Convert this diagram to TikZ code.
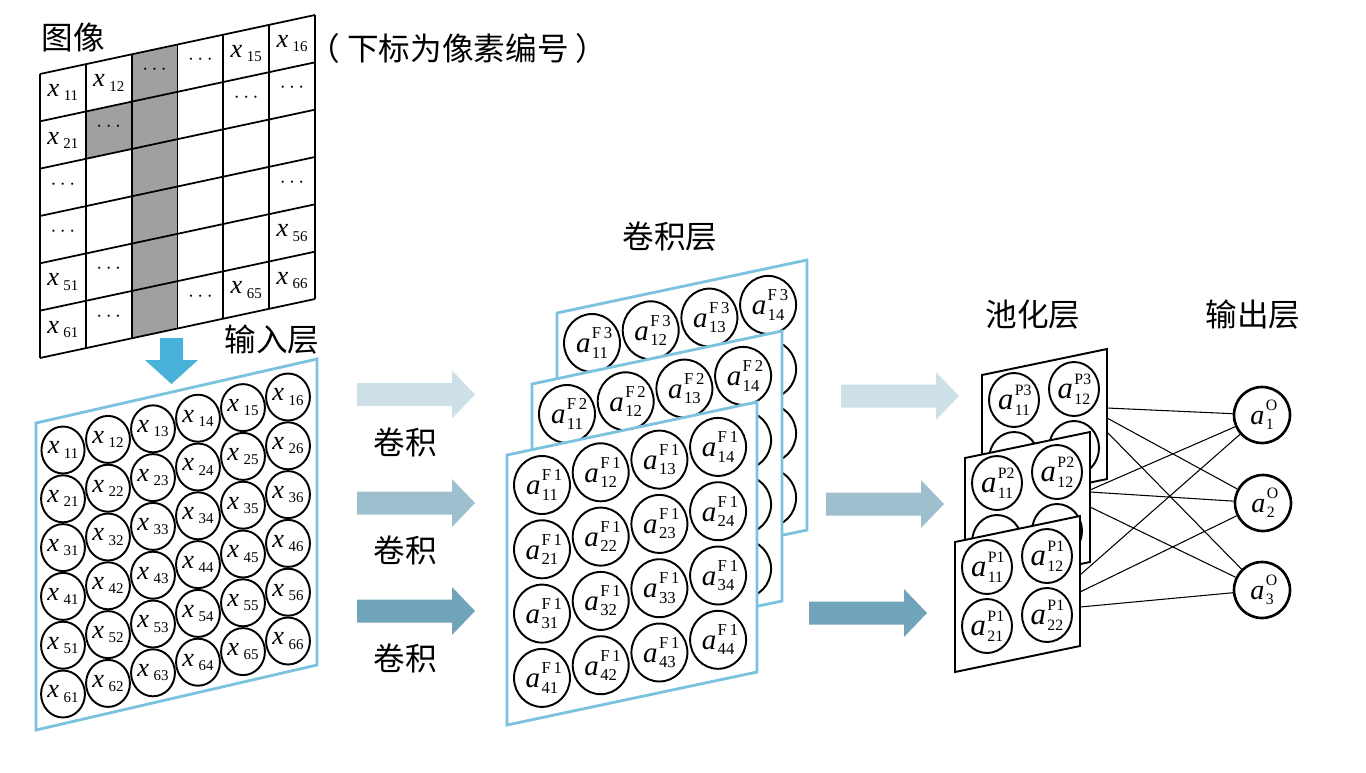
\documentclass[tikz,border=0pt]{standalone}
\usepackage{fontspec}
\setmainfont{Liberation Serif}
\newfontfamily\cjk{Noto Sans CJK SC}
\usepackage{tikz}
\usetikzlibrary{shapes.geometric,positioning}

\definecolor{planeblue}{RGB}{122,194,224}
\definecolor{downblue}{RGB}{72,178,219}
\definecolor{cellgray}{RGB}{160,160,160}
\definecolor{arrowlight}{RGB}{205,224,232}
\definecolor{arrowmid}{RGB}{158,192,206}
\definecolor{arrowdark}{RGB}{111,164,187}

\newcommand{\xs}[2][8.5]{\textit{x}\kern2.5pt\raisebox{-0.35ex}{\fontsize{#1}{#1}\selectfont #2}}
\newcommand{\as}[3]{\textit{a}\kern0.8pt\rlap{\raisebox{1.05ex}{\fontsize{#3}{#3}\selectfont #1}}\raisebox{-0.4ex}{\fontsize{#3}{#3}\selectfont #2}}
\newcommand{\blockarrow}[4]{\fill[#1] ({#2},{#4-11.5}) -- ({#3-23},{#4-11.5}) -- ({#3-23},{#4-24}) -- ({#3},{#4}) -- ({#3-23},{#4+24}) -- ({#3-23},{#4+11.5}) -- ({#2},{#4+11.5}) -- cycle;}

\begin{document}
\begin{tikzpicture}[x=0.02cm, y=-0.02cm,
    grid/.style={line width=1pt},
    title/.style={font=\cjk\fontsize{18}{20}\selectfont, inner sep=0pt},
    cell/.style={font=\fontsize{15}{17}\selectfont, inner sep=0pt},
    xcirc/.style={ellipse, draw, line width=1.1pt, minimum width=0.84cm, minimum height=0.94cm, inner sep=0pt, font=\fontsize{15}{17}\selectfont},
    cplane/.style={fill=white, draw=planeblue, line width=1.6pt},
    fcirc/.style={ellipse, draw, line width=1.1pt, minimum width=1.12cm, minimum height=1.16cm, inner sep=0pt, font=\fontsize{16.5}{18}\selectfont},
    pplane/.style={fill=white, draw=black, line width=1.1pt},
    pcirc/.style={ellipse, draw, line width=1.1pt, minimum width=1.0cm, minimum height=1.08cm, inner sep=0pt, font=\fontsize{17.5}{19}\selectfont},
    ocirc/.style={circle, draw, line width=1.5pt, minimum size=1.12cm, inner sep=0pt, font=\fontsize{16}{18}\selectfont},
    link/.style={line width=0.6pt}]

    \useasboundingbox (0,0) rectangle (1366,772);

    % image grid
    \fill[cellgray] (131.67,54.34) -- (177.5,44.5) -- ++(0,284) -- (131.67,338.34) -- cycle;
    \fill[cellgray] (85.83,111.5) -- (131.67,101.67) -- ++(0,47.33) -- (85.83,158.83) -- cycle;
    \foreach \j in {0,...,6}
        \draw[grid] (40,{74+47.33*\j}) -- (315,{15+47.33*\j});
    \foreach \i in {0,...,6}
        \draw[grid] ({40+45.83*\i},{74-9.83*\i}) -- ++(0,284);
    \foreach \r/\c in {1/1,1/2,1/5,1/6,2/1,5/1,5/6,6/1,6/5,6/6}
        \node[cell] (img_\r\c) at ({40+45.83*(\c-0.5)},{74-9.83*(\c-0.5)+47.33*(\r-0.5)}) {\xs{\r\c}};
    \foreach \r/\c in {1/3,1/4,2/2,2/5,2/6,3/1,4/1,4/6,5/2,6/2,6/4}
        \node[cell, font=\fontsize{13}{14}\selectfont] (img_\r\c) at ({40+45.83*(\c-0.5)},{74-9.83*(\c-0.5)+47.33*(\r-0.5)-3}) {$\cdots$};

    \node[title] (image) at (73,37) {图像};
    \node[title] (note) at (458,48) {（\hspace{4pt}下标为像素编号\hspace{4pt}）};
    \node[title] (input) at (272,340) {输入层};

    \fill[downblue] (160,338) -- (183,338) -- (183,360) -- (198,360) -- (171.5,384) -- (145,360) -- (160,360) -- cycle;

    % input layer
    \draw[cplane] (36,423) -- (317,359) -- (317,665) -- (36,730) -- cycle;
    \foreach \r in {1,...,6}
        \foreach \c in {1,...,6}
            \node[xcirc] (in_\r\c) at ({63+45*(\c-1)},{450-10.6*(\c-1)+48.8*(\r-1)}) {\xs{\r\c}};

    % convolution
    \blockarrow{arrowlight}{357}{475}{394.5}
    \blockarrow{arrowmid}{357}{475}{503}
    \blockarrow{arrowdark}{357}{475}{611}
    \node[title] (conv_a) at (405,442) {卷积};
    \node[title] (conv_b) at (405,550) {卷积};
    \node[title] (conv_c) at (405,658) {卷积};
    \node[title] (convlayer) at (670,237) {卷积层};

    \foreach \k in {3,2,1} {
        \begin{scope}[shift={({25*(\k-1)},{-71*(\k-1)})}]
            \draw[cplane] (507,455) -- ++(250,-53) -- ++(0,270) -- ++(-250,53) -- cycle;
            \foreach \c in {1,...,4}
                \node[fcirc] (conv\k_1\c) at ({542+58.7*(\c-1)},{485-12.7*(\c-1)}) {\as{F\,\k}{1\c}{9.5}};
            \foreach \r in {2,...,4}
                \foreach \c in {1,...,4}
                    \node[fcirc] (conv\k_\r\c) at ({542+58.7*(\c-1)},{485-12.7*(\c-1)+64.3*(\r-1)}) {\ifnum\k=1 \as{F\,\k}{\r\c}{9.5}\fi};
        \end{scope}
    }

    % pooling
    \blockarrow{arrowlight}{841}{959}{396}
    \blockarrow{arrowmid}{826}{944}{504}
    \blockarrow{arrowdark}{809}{927}{613}
    \node[title] (poollayer) at (1033,315) {池化层};
    \node[title] (outlayer) at (1253,315) {输出层};

    \foreach \k/\px/\py in {3/982/375, 2/965/458, 1/955/542} {
        \draw[pplane] (\px,\py) -- ++(125,-26) -- ++(0,130) -- ++(-125,26) -- cycle;
        \foreach \c in {1,2}
            \node[pcirc] (pool\k_1\c) at ({\px+32+60*(\c-1)},{\py+25-11*(\c-1)}) {\as{P\k}{1\c}{9}};
        \foreach \c in {1,2}
            \node[pcirc] (pool\k_2\c) at ({\px+32+60*(\c-1)},{\py+84-11*(\c-1)}) {\ifnum\k=1 \as{P\k}{2\c}{9}\fi};
    }

    % output
    \node[ocirc] (out_1) at (1262,415) {\as{O}{1}{9}};
    \node[ocirc] (out_2) at (1263,503) {\as{O}{2}{9}};
    \node[ocirc] (out_3) at (1262,590) {\as{O}{3}{9}};

    \coordinate (p3_out1) at (1107,408);
    \coordinate (p3_out2) at (1107,418);
    \coordinate (p3_out3) at (1107,432);
    \coordinate (p2_out1) at (1090,490);
    \coordinate (p2_out2) at (1090,492);
    \coordinate (p2_out3) at (1090,507);
    \coordinate (p1_out1) at (1080,575);
    \coordinate (p1_out2) at (1080,592);
    \coordinate (p1_out3) at (1080,607);
    \foreach \k in {1,2,3}
        \foreach \o in {1,2,3}
            \draw[link] (p\k_out\o) -- (out_\o);
\end{tikzpicture}
\end{document}
